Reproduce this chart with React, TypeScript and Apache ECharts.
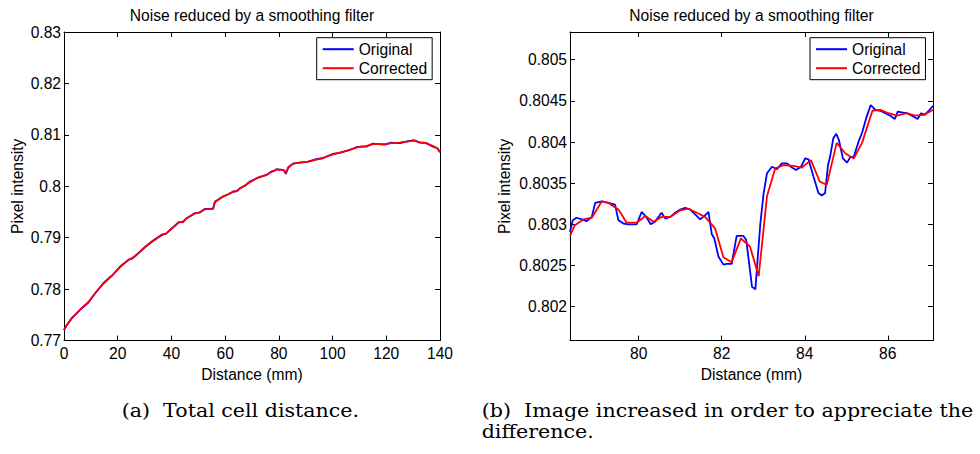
import React, { useEffect, useRef } from "react";
import * as echarts from "echarts";

// ---------- Data ----------
const TITLE = "Noise reduced by a smoothing filter";
const X_NAME = "Distance (mm)";
const Y_NAME = "Pixel intensity";
const SERIES_NAMES = ["Original", "Corrected"];

// (a) Full distance
const leftDist = [0, 0.9, 2.9, 4.5, 6.6, 9.1, 11.6, 14.7, 17.8, 20.9, 24.0, 25.5, 27.1, 30.2, 33.3, 36.4, 38.0, 39.5, 42.6, 43.4, 44.2, 45.7, 48.8, 50.6, 52.4, 54.9, 55.5, 56.2, 59.2, 61.0, 63.0, 64.3, 65.5, 67.3, 69.2, 72.3, 75.4, 77.3, 78.3, 79.1, 81.4, 82.1, 82.6, 83.5, 85.3, 87.8, 90.9, 94.0, 96.5, 98.4, 100.2, 102.5, 104.5, 106.5, 108.8, 110.5, 112.5, 115.0, 117.0, 119.4, 121.9, 123.5, 125.0, 127.5, 130.2, 132.4, 134.9, 137.4, 139.0, 140];
const leftOriginal = [0.772, 0.7729, 0.7744, 0.7752, 0.7763, 0.7774, 0.7792, 0.7812, 0.7826, 0.7844, 0.7857, 0.786, 0.7867, 0.7882, 0.7895, 0.7906, 0.7908, 0.7915, 0.793, 0.7931, 0.793, 0.7938, 0.7948, 0.7949, 0.7956, 0.7956, 0.7956, 0.797, 0.798, 0.7984, 0.799, 0.799, 0.7996, 0.8001, 0.8009, 0.8017, 0.8022, 0.8029, 0.803, 0.8033, 0.8032, 0.803, 0.8024, 0.8037, 0.8044, 0.8046, 0.8048, 0.8053, 0.8055, 0.8059, 0.8063, 0.8065, 0.8068, 0.8071, 0.8076, 0.8077, 0.8077, 0.8083, 0.8082, 0.8081, 0.8085, 0.8084, 0.8084, 0.8087, 0.809, 0.8085, 0.8084, 0.8077, 0.8074, 0.8066];
const leftCorrected = [0.7721, 0.7729, 0.7743, 0.7752, 0.7763, 0.7775, 0.7792, 0.7811, 0.7826, 0.7843, 0.7857, 0.7861, 0.7867, 0.7882, 0.7894, 0.7905, 0.7908, 0.7915, 0.7929, 0.7931, 0.7931, 0.7938, 0.7947, 0.795, 0.7955, 0.7956, 0.7957, 0.7969, 0.798, 0.7984, 0.7989, 0.7991, 0.7996, 0.8001, 0.8008, 0.8017, 0.8022, 0.8028, 0.803, 0.8033, 0.8032, 0.803, 0.8026, 0.8036, 0.8044, 0.8046, 0.8048, 0.8052, 0.8055, 0.8059, 0.8062, 0.8065, 0.8068, 0.8071, 0.8075, 0.8077, 0.8078, 0.8082, 0.8082, 0.8082, 0.8084, 0.8084, 0.8085, 0.8087, 0.8089, 0.8086, 0.8084, 0.8078, 0.8074, 0.8067];

// (b) Zoomed segment
const rightOrigDist = [78.344, 78.41, 78.5, 78.63, 78.75, 78.87, 78.95, 79.11, 79.27, 79.43, 79.51, 79.63, 79.75, 79.95, 80.07, 80.18, 80.29, 80.39, 80.55, 80.64, 80.76, 80.88, 81.0, 81.12, 81.24, 81.36, 81.48, 81.6, 81.68, 81.76, 81.82, 81.92, 82.04, 82.12, 82.24, 82.36, 82.52, 82.59, 82.73, 82.81, 82.93, 83.01, 83.09, 83.21, 83.33, 83.45, 83.57, 83.69, 83.79, 83.91, 84.01, 84.09, 84.21, 84.33, 84.41, 84.49, 84.56, 84.61, 84.69, 84.76, 84.82, 84.92, 85.02, 85.1, 85.18, 85.3, 85.38, 85.48, 85.59, 85.7, 85.82, 85.94, 86.06, 86.17, 86.24, 86.34, 86.46, 86.58, 86.72, 86.8, 86.89, 86.99, 87.09];
const rightOriginal = [0.80291, 0.80305, 0.80308, 0.80306, 0.80304, 0.80309, 0.80326, 0.80328, 0.80326, 0.80324, 0.80305, 0.80301, 0.803, 0.803, 0.80315, 0.80309, 0.803, 0.80303, 0.80314, 0.80307, 0.80309, 0.80314, 0.80318, 0.8032, 0.80318, 0.80312, 0.80306, 0.80311, 0.80315, 0.80288, 0.80283, 0.80261, 0.80251, 0.80252, 0.80252, 0.80286, 0.80286, 0.80281, 0.80224, 0.80221, 0.80301, 0.80338, 0.80362, 0.8037, 0.80367, 0.80374, 0.80374, 0.80369, 0.80366, 0.8037, 0.8038, 0.80379, 0.80358, 0.80338, 0.80335, 0.80338, 0.80372, 0.80382, 0.80405, 0.8041, 0.80403, 0.8038, 0.80375, 0.80382, 0.80382, 0.80401, 0.80411, 0.80429, 0.80445, 0.80439, 0.80438, 0.80435, 0.80432, 0.80428, 0.80437, 0.80436, 0.80435, 0.80432, 0.80428, 0.80435, 0.80433, 0.80438, 0.80444];
const rightCorrDist = [78.344, 78.46, 78.67, 78.87, 79.11, 79.27, 79.51, 79.71, 79.95, 80.16, 80.36, 80.55, 80.76, 81.0, 81.2, 81.4, 81.6, 81.84, 82.04, 82.24, 82.46, 82.68, 82.89, 83.09, 83.29, 83.49, 83.73, 83.93, 84.15, 84.36, 84.53, 84.77, 84.98, 85.18, 85.38, 85.63, 85.82, 86.02, 86.22, 86.46, 86.66, 86.86, 87.09];
const rightCorrected = [0.80286, 0.80299, 0.80306, 0.80308, 0.80328, 0.80326, 0.80318, 0.80302, 0.80302, 0.8031, 0.80303, 0.80309, 0.80309, 0.80317, 0.80319, 0.80314, 0.80309, 0.80295, 0.8026, 0.80254, 0.80283, 0.80273, 0.80237, 0.80334, 0.80368, 0.80372, 0.80371, 0.80369, 0.80378, 0.80352, 0.80348, 0.80399, 0.80386, 0.8038, 0.80399, 0.80438, 0.80439, 0.80435, 0.80432, 0.80435, 0.80432, 0.80433, 0.80439];

// Axis ranges and ticks
const leftXRange = [0, 140];
const leftYRange = [0.77, 0.83];
const leftXTicks = [0, 20, 40, 60, 80, 100, 120, 140];
const leftYTicks = [0.77, 0.78, 0.79, 0.8, 0.81, 0.82, 0.83];
const rightXRange = [78.344, 87.09];
const rightYRange = [0.801587, 0.805337];
const rightXTicks = [80, 82, 84, 86];
const rightYTicks = [0.802, 0.8025, 0.803, 0.8035, 0.804, 0.8045, 0.805];

const CAPTION_A = "(a)  Total cell distance.";
const CAPTION_B1 = "(b)  Image increased in order to appreciate the";
const CAPTION_B2 = "difference.";

// ---------- Styling ----------
const FONT = "'Liberation Sans', Arial, Helvetica, sans-serif";
const SERIF = "'DejaVu Serif', 'Liberation Serif', serif";
const FS = 15.6;
const CAP_FS = 18;
const CAP_SCALE_X = 1.144;
const BLUE = "#0000ff";
const RED = "#ff0000";
const LW = 1.8;

const fmt = (v: number) => String(parseFloat(Number(v).toFixed(5)));

function makeX(gridIndex: number, range: number[], ticks: number[], top: boolean) {
  return {
    type: "value",
    gridIndex,
    position: top ? "top" : "bottom",
    min: range[0],
    max: range[1],
    name: top ? "" : X_NAME,
    nameLocation: "middle",
    nameGap: 16,
    nameTextStyle: { fontFamily: FONT, fontSize: FS, color: "#000" },
    axisLine: { show: true, onZero: false, lineStyle: { color: "#000", width: 1 } },
    axisTick: { show: true, inside: true, length: 5, customValues: ticks, lineStyle: { color: "#000" } },
    axisLabel: {
      show: !top,
      customValues: ticks,
      formatter: fmt,
      margin: 5,
      fontFamily: FONT,
      fontSize: FS,
      color: "#000",
    },
    splitLine: { show: false },
  };
}

function makeY(gridIndex: number, range: number[], ticks: number[], right: boolean, nameGap: number) {
  return {
    type: "value",
    gridIndex,
    position: right ? "right" : "left",
    min: range[0],
    max: range[1],
    name: right ? "" : Y_NAME,
    nameLocation: "middle",
    nameGap,
    nameTextStyle: { fontFamily: FONT, fontSize: FS, color: "#000" },
    axisLine: { show: true, onZero: false, lineStyle: { color: "#000", width: 1 } },
    axisTick: { show: true, inside: true, length: 5, customValues: ticks, lineStyle: { color: "#000" } },
    axisLabel: {
      show: !right,
      customValues: ticks,
      formatter: fmt,
      margin: 3,
      fontFamily: FONT,
      fontSize: FS,
      color: "#000",
    },
    splitLine: { show: false },
  };
}

function lineSeries(name: string, color: string, xs: number[], ys: number[], xi: number, yi: number) {
  return {
    type: "line",
    name,
    xAxisIndex: xi,
    yAxisIndex: yi,
    data: xs.map((x, i) => [x, ys[i]]),
    showSymbol: false,
    symbol: "none",
    lineStyle: { color, width: LW },
    itemStyle: { color },
    clip: true,
  };
}

function legend(left: number) {
  return {
    orient: "vertical",
    left,
    top: 37.7,
    data: SERIES_NAMES,
    icon: "rect",
    itemWidth: 31,
    itemHeight: 2,
    itemGap: 2,
    padding: [3, 5, 3, 6],
    borderColor: "#000",
    borderWidth: 1,
    backgroundColor: "#fff",
    selectedMode: false,
    textStyle: { fontFamily: FONT, fontSize: FS, color: "#000", lineHeight: 17 },
  };
}

function caption(text: string, x: number, y: number) {
  return {
    type: "text",
    x,
    y,
    scaleX: CAP_SCALE_X,
    style: { text, fontFamily: SERIF, fontSize: CAP_FS, fill: "#000", align: "left", verticalAlign: "middle" },
  };
}

export default function App() {
  const ref = useRef<HTMLDivElement>(null);
  useEffect(() => {
    if (!ref.current) return;
    const chart = echarts.init(ref.current, null, { renderer: "svg" });
    const grids = [
      { left: 64, top: 32, width: 376, height: 308.6 },
      { left: 570, top: 32, width: 363, height: 308.6 },
    ];
    chart.setOption({
      animation: false,
      backgroundColor: "#fff",
      grid: grids,
      xAxis: [
        makeX(0, leftXRange, leftXTicks, false),
        makeX(0, leftXRange, leftXTicks, true),
        makeX(1, rightXRange, rightXTicks, false),
        makeX(1, rightXRange, rightXTicks, true),
      ],
      yAxis: [
        makeY(0, leftYRange, leftYTicks, false, 39),
        makeY(0, leftYRange, leftYTicks, true, 0),
        makeY(1, rightYRange, rightYTicks, false, 58),
        makeY(1, rightYRange, rightYTicks, true, 0),
      ],
      legend: [legend(316.7), legend(810)],
      series: [
        lineSeries("Original", BLUE, leftDist, leftOriginal, 0, 0),
        lineSeries("Corrected", RED, leftDist, leftCorrected, 0, 0),
        lineSeries("Original", BLUE, rightOrigDist, rightOriginal, 2, 2),
        lineSeries("Corrected", RED, rightCorrDist, rightCorrected, 2, 2),
      ],
      graphic: [
        {
          type: "text",
          x: 252,
          y: 15,
          style: { text: TITLE, fontFamily: FONT, fontSize: FS, fill: "#000", align: "center", verticalAlign: "middle" },
        },
        {
          type: "text",
          x: 751.5,
          y: 15,
          style: { text: TITLE, fontFamily: FONT, fontSize: FS, fill: "#000", align: "center", verticalAlign: "middle" },
        },
        caption(CAPTION_A, 121.7, 411),
        caption(CAPTION_B1, 481.7, 411),
        caption(CAPTION_B2, 481.7, 432),
      ],
    });
    return () => chart.dispose();
  }, []);
  return (
    <div
      ref={ref}
      style={{ position: "fixed", left: 0, top: 0, width: 980, height: 454, background: "#fff" }}
    />
  );
}
